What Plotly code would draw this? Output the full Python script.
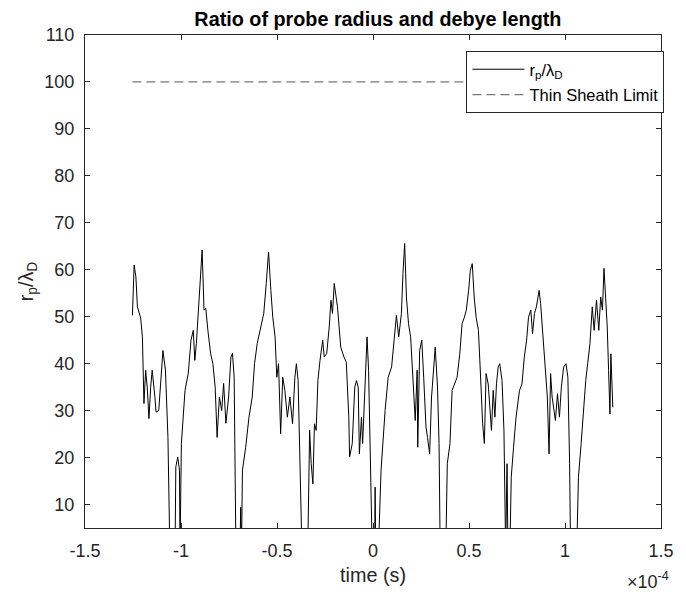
import plotly.graph_objects as go

# time in microseconds, ratio values (values below 5 are clipped by the axis)
t_us = [-125.3, -124.4, -123.5, -122.7, -121.0, -120.1, -119.3, -118.4, -117.6, -116.7,
        -115.8, -115.0, -113.6, -113.0, -111.6, -110.7, -109.4, -108.1, -106.8, -105.8,
        -103.1, -102.7, -101.7, -100.8, -100.5, -99.8, -98.8, -97.9, -96.2, -94.8,
        -93.6, -92.8, -92.0, -91.1, -89.9, -89.0, -88.0, -87.1, -86.0, -84.6,
        -83.4, -82.2, -81.2, -80.0, -78.8, -77.8, -76.6, -75.2, -74.0, -73.2,
        -72.3, -71.4, -69.3, -68.9, -68.5, -68.0, -66.3, -64.6, -62.9, -61.7,
        -60.3, -58.7, -56.9, -55.6, -54.4, -53.2, -52.2, -51.0, -50.1, -49.2,
        -48.1, -47.0, -45.9, -44.6, -43.3, -41.9, -40.7, -39.9, -39.0, -37.0,
        -34.0, -33.0, -32.2, -31.3, -30.5, -29.6, -28.7, -27.6, -26.2, -25.4,
        -24.1, -22.8, -21.9, -21.1, -20.2, -18.5, -16.8, -15.1, -13.9, -12.6,
        -12.2, -10.8, -9.5, -8.6, -7.7, -7.1, -6.0, -5.4, -4.4, -3.1,
        -2.3, -0.4, 0.9, 1.1, 1.4, 2.8, 4.2, 6.3, 7.9, 9.7,
        11.0, 12.2, 13.4, 14.8, 15.6, 16.5, 17.4, 18.5, 19.6, 20.7,
        22.0, 23.0, 23.3, 24.3, 25.4, 26.4, 27.6, 28.4, 29.5, 30.5,
        31.5, 32.4, 33.6, 34.4, 35.0, 37.9, 38.7, 40.1, 41.2, 42.5,
        43.8, 45.2, 46.4, 47.6, 48.6, 49.8, 50.7, 51.7, 52.7, 53.7,
        54.9, 55.8, 57.1, 58.0, 58.9, 60.0, 60.9, 61.7, 62.6, 63.5,
        64.3, 65.2, 66.0, 67.2, 68.2, 69.1, 69.8, 70.3, 71.3, 72.0,
        73.2, 74.5, 76.3, 77.6, 78.8, 80.0, 81.0, 82.2, 83.1, 84.1,
        85.1, 86.5, 87.3, 88.2, 89.6, 90.8, 91.7, 92.5, 93.3, 94.2,
        95.0, 96.1, 97.1, 98.1, 99.3, 100.5, 101.5, 102.4, 102.9, 106.1,
        107.0, 108.4, 109.6, 110.8, 111.8, 113.0, 114.2, 115.2, 116.4, 117.6,
        118.6, 119.5, 120.3, 121.2, 122.0, 122.7, 123.4, 123.9, 124.4, 124.9]

ratio = [50.3, 61.0, 58.5, 52.1, 49.7, 45.7, 31.5, 38.6, 35.0, 28.3,
         35.0, 38.6, 32.9, 29.7, 30.0, 35.0, 42.8, 38.6, 24.3, 0.0,
         0.0, 18.0, 20.1, 17.3, 0.0, 23.0, 30.0, 34.3, 38.0, 45.0,
         47.1, 40.7, 44.3, 50.7, 57.8, 64.2, 51.4, 51.8, 47.1, 42.2,
         40.0, 35.0, 24.3, 32.9, 30.0, 35.8, 27.3, 32.9, 41.4, 42.2,
         37.1, 0.0, 0.0, 9.4, 0.0, 17.3, 22.2, 28.6, 32.9, 40.0,
         44.3, 47.1, 50.7, 57.1, 63.8, 55.6, 49.9, 45.7, 37.1, 40.0,
         25.1, 37.1, 34.3, 28.6, 32.9, 27.2, 37.1, 40.0, 36.4, 0.0,
         0.0, 25.8, 18.7, 14.4, 27.2, 25.8, 36.4, 40.7, 45.0, 41.4,
         42.2, 47.8, 53.5, 50.7, 57.1, 52.1, 43.5, 41.4, 40.3, 28.6,
         20.1, 23.0, 35.0, 36.4, 35.0, 20.8, 28.6, 23.0, 32.9, 45.7,
         38.6, 0.0, 0.0, 13.7, 0.0, 0.0, 17.3, 30.0, 37.1, 39.3,
         44.3, 50.3, 45.7, 50.7, 59.2, 65.6, 54.2, 48.5, 45.7, 38.6,
         27.9, 38.6, 22.2, 42.8, 45.0, 37.1, 26.5, 24.3, 20.8, 32.9,
         38.6, 43.5, 35.0, 23.0, 0.0, 0.0, 18.7, 23.0, 34.3, 35.7,
         37.1, 42.1, 48.5, 49.9, 51.4, 55.6, 59.9, 61.3, 54.2, 49.9,
         47.1, 39.3, 27.2, 23.0, 37.9, 35.7, 29.3, 25.8, 34.3, 28.6,
         35.7, 39.3, 40.0, 36.4, 25.8, 0.0, 18.7, 0.0, 0.0, 15.8,
         22.2, 28.6, 34.3, 35.7, 41.4, 45.0, 49.9, 51.4, 46.4, 50.7,
         52.1, 55.6, 52.8, 47.8, 40.0, 32.9, 20.8, 37.9, 32.9, 30.0,
         27.9, 33.6, 28.6, 35.0, 39.3, 40.0, 37.1, 18.7, 0.0, 0.0,
         15.8, 23.0, 30.7, 36.4, 40.0, 44.3, 52.1, 47.1, 53.5, 47.1,
         54.2, 51.4, 60.3, 54.2, 47.8, 38.6, 29.3, 42.1, 37.9, 30.7]

limit_t_us = [-125.3, 124.9]
limit_val = [100, 100]

xtick_vals = [-1.5e-4, -1e-4, -0.5e-4, 0, 0.5e-4, 1e-4, 1.5e-4]
xtick_text = ["-1.5", "-1", "-0.5", "0", "0.5", "1", "1.5"]
ytick_vals = [10, 20, 30, 40, 50, 60, 70, 80, 90, 100, 110]

t = [v * 1e-6 for v in t_us]
lt = [v * 1e-6 for v in limit_t_us]

FONT = "Liberation Sans, Arial, sans-serif"
AX = "#262626"

fig = go.Figure()
fig.add_trace(go.Scatter(x=t, y=ratio, mode="lines",
                         line=dict(color="black", width=1),
                         name="r<sub>p</sub>/λ<sub>D</sub>", legendgroup="a"))
fig.add_trace(go.Scatter(x=lt, y=limit_val, mode="lines",
                         line=dict(color="#555555", width=1, dash="9px,5px"),
                         name="Thin Sheath Limit", legendgroup="b"))

fig.update_layout(
    width=686, height=595,
    margin=dict(l=85, r=15, t=35, b=67),
    paper_bgcolor="white", plot_bgcolor="white",
    font=dict(family=FONT, size=18, color=AX),
    title=dict(text="<b>Ratio of probe radius and debye length</b>",
               x=(377.9) / 686, xanchor="center",
               y=1 - 19 / 595, yanchor="middle", yref="container",
               font=dict(family=FONT, size=19.8, color="black")),
    showlegend=True,
    legend=dict(x=1.006, y=0.9675, xanchor="right", yanchor="top",
                bgcolor="white", bordercolor=AX, borderwidth=1,
                font=dict(family=FONT, size=16.5, color="black"),
                tracegroupgap=1, itemwidth=52),
    xaxis=dict(range=[-1.5e-4, 1.5e-4], tickvals=xtick_vals, ticktext=xtick_text,
               showline=True, mirror="ticks", linecolor=AX, linewidth=1,
               ticks="inside", ticklen=5, tickcolor=AX, showgrid=False,
               zeroline=False, ticklabelstandoff=6,
               tickfont=dict(family=FONT, size=18, color=AX),
               title=dict(text="time (s)", standoff=8,
                          font=dict(family=FONT, size=19.8, color=AX))),
    yaxis=dict(range=[5, 110], tickvals=ytick_vals,
               showline=True, mirror="ticks", linecolor=AX, linewidth=1,
               ticks="inside", ticklen=5, tickcolor=AX, showgrid=False,
               zeroline=False, ticklabelstandoff=6,
               tickfont=dict(family=FONT, size=18, color=AX),
               title=dict(text="r<sub>p</sub>/λ<sub>D</sub>", standoff=5,
                          font=dict(family=FONT, size=19.8, color=AX))),
)

fig.add_annotation(text="×10<sup>-4</sup>", xref="paper", yref="paper",
                   x=1.017, y=-52 / 493, xanchor="right", yanchor="middle",
                   showarrow=False, font=dict(family=FONT, size=18, color=AX))

fig.write_html("out.html")
